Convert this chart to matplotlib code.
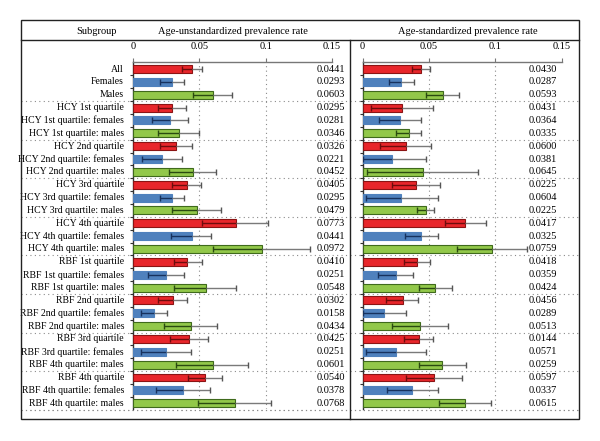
import numpy as np
import matplotlib
matplotlib.use('Agg')
import matplotlib.pyplot as plt
from matplotlib.lines import Line2D
from matplotlib.patches import Rectangle
import matplotlib.transforms as mtransforms

plt.rcParams['font.family'] = ['Liberation Serif', 'DejaVu Serif']

# Subgroup labels (as printed in the figure)
labels = ['All', 'Females', 'Males',
          'HCY 1st quartile', 'HCY 1st quartile: females', 'HCY 1st quartile: males',
          'HCY 2nd quartile', 'HCY 2nd quartile: females', 'HCY 2nd quartile: males',
          'HCY 3rd quartile', 'HCY 3rd quartile: females', 'HCY 3rd quartile: males',
          'HCY 4th quartile', 'HCY 4th quartile: females', 'HCY 4th quartile: males',
          'RBF 1st quartile', 'RBF 1st quartile: females', 'RBF 1st quartile: males',
          'RBF 2nd quartile', 'RBF 2nd quartile: females', 'RBF 2nd quartile: males',
          'RBF 3rd quartile', 'RBF 3rd quartile: females', 'RBF 4th quartile: males',
          'RBF 4th quartile', 'RBF 4th quartile: females', 'RBF 4th quartile: males']

# Printed values
unstd_text = ['0.0441', '0.0293', '0.0603', '0.0295', '0.0281', '0.0346', '0.0326', '0.0221', '0.0452',
              '0.0405', '0.0295', '0.0479', '0.0773', '0.0441', '0.0972', '0.0410', '0.0251', '0.0548',
              '0.0302', '0.0158', '0.0434', '0.0425', '0.0251', '0.0601', '0.0540', '0.0378', '0.0768']
std_text = ['0.0430', '0.0287', '0.0593', '0.0431', '0.0364', '0.0335', '0.0600', '0.0381', '0.0645',
            '0.0225', '0.0604', '0.0225', '0.0417', '0.0325', '0.0759', '0.0418', '0.0359', '0.0424',
            '0.0456', '0.0289', '0.0513', '0.0144', '0.0571', '0.0259', '0.0597', '0.0337', '0.0615']

# Bars and confidence limits
unstd_val = [0.0441, 0.0293, 0.0603, 0.0295, 0.0281, 0.0346, 0.0326, 0.0221, 0.0452,
             0.0405, 0.0295, 0.0479, 0.0773, 0.0441, 0.0972, 0.0410, 0.0251, 0.0548,
             0.0302, 0.0158, 0.0434, 0.0425, 0.0251, 0.0601, 0.0540, 0.0378, 0.0768]
unstd_lo = [0.0367, 0.0201, 0.0455, 0.0186, 0.0146, 0.0191, 0.0206, 0.0070, 0.0274,
            0.0296, 0.0206, 0.0296, 0.0523, 0.0286, 0.0603, 0.0307, 0.0116, 0.0312,
            0.0191, 0.0060, 0.0236, 0.0281, 0.0060, 0.0327, 0.0412, 0.0176, 0.0492]
unstd_hi = [0.0518, 0.0384, 0.0749, 0.0402, 0.0415, 0.0497, 0.0445, 0.0372, 0.0628,
            0.0510, 0.0384, 0.0661, 0.1020, 0.0590, 0.1337, 0.0518, 0.0387, 0.0779,
            0.0410, 0.0254, 0.0633, 0.0563, 0.0440, 0.0869, 0.0671, 0.0578, 0.1040]

# Bars and confidence limits
std_val = [0.0442, 0.0293, 0.0604, 0.0295, 0.0280, 0.0348, 0.0326, 0.0220, 0.0455,
           0.0402, 0.0293, 0.0477, 0.0775, 0.0439, 0.0975, 0.0412, 0.0250, 0.0548,
           0.0303, 0.0159, 0.0437, 0.0424, 0.0250, 0.0601, 0.0540, 0.0376, 0.0773]
std_lo = [0.0374, 0.0197, 0.0482, 0.0063, 0.0121, 0.0255, 0.0134, 0.0002, 0.0035,
          0.0225, 0.0025, 0.0414, 0.0619, 0.0318, 0.0710, 0.0311, 0.0119, 0.0424,
          0.0179, 0.0002, 0.0225, 0.0316, 0.0025, 0.0424, 0.0331, 0.0187, 0.0576]
std_hi = [0.0510, 0.0391, 0.0727, 0.0528, 0.0439, 0.0439, 0.0518, 0.0482, 0.0869,
          0.0586, 0.0566, 0.0540, 0.0932, 0.0568, 0.1237, 0.0508, 0.0381, 0.0674,
          0.0422, 0.0326, 0.0644, 0.0535, 0.0475, 0.0780, 0.0753, 0.0568, 0.0967]

xticks = [0, 0.05, 0.1, 0.15]
xticklabels = ['0', '0.05', '0.1', '0.15']

fills = ['#e8262b', '#4f81bd', '#92c84a']
edges = ['#8b1414', '#4f81bd', '#3f6a1c']
darks = ['#6e0c0c', '#17325e', '#2a4a10']
upper_col = '#7a7a7a'
sep_col = '#8a8a8a'

W, H = 600, 441
fig = plt.figure(figsize=(W / 100, H / 100), dpi=100)
fig.patch.set_facecolor('white')

def fx(px):
    return px / W

def fy(py):
    return 1 - py / H

n = len(labels)
y = np.arange(n)

def panel(x0, x1, vals, lo, hi, texts, text_x, sep_from, sep_to):
    ax = fig.add_axes([fx(x0), fy(409), fx(x1) - fx(x0), fy(62) - fy(409)])
    ax.set_xlim(0, 0.15)
    ax.set_ylim(n - 0.55, -0.55)
    cols = [fills[i % 3] for i in range(n)]
    ecs = [edges[i % 3] for i in range(n)]
    ax.barh(y, vals, height=0.62, color=cols, edgecolor=ecs, linewidth=0.8, zorder=3)
    for i in range(n):
        d = darks[i % 3]
        ax.hlines(y[i], lo[i], vals[i], color=d, lw=1.0, zorder=4)
        ax.plot([lo[i]], [y[i]], marker='|', ms=5, mew=1.0, color=d, zorder=4)
        ax.hlines(y[i], vals[i], hi[i], color=upper_col, lw=1.0, zorder=4)
        ax.plot([hi[i]], [y[i]], marker='|', ms=5, mew=1.0, color='#555555', zorder=4)
    # dotted vertical grid
    for v in [0.05, 0.1]:
        ax.axvline(v, color=sep_col, ls=(0, (1, 3)), lw=0.8, zorder=1)
    # dotted group separators spanning the whole panel
    for b in list(np.arange(2.5, n, 3)) + [n - 0.5]:
        ax.axhline(b + 0.05 if b == n - 0.5 else b, xmin=sep_from, xmax=sep_to,
                   color=sep_col, ls=(0, (1, 3)), lw=0.8, clip_on=False, zorder=1)
    # axes styling
    for s in ['right', 'bottom']:
        ax.spines[s].set_visible(False)
    ax.spines['top'].set_color('#777777')
    ax.spines['top'].set_linewidth(1.0)
    ax.spines['left'].set_color('#333333')
    ax.spines['left'].set_linewidth(1.0)
    ax.xaxis.tick_top()
    ax.set_xticks(xticks)
    ax.set_xticklabels(xticklabels, fontsize=7.5)
    ax.tick_params(axis='x', length=3, width=0.8, color='#777777', pad=5)
    ax.set_yticks(np.arange(0.5, n - 1, 1))
    ax.set_yticklabels([])
    ax.tick_params(axis='y', length=2.5, width=0.8, color='#333333')
    trans = mtransforms.blended_transform_factory(ax.transAxes, ax.transData)
    for i in range(n):
        ax.text(text_x, y[i], texts[i], transform=trans, ha='right', va='center', fontsize=7.5)
    return ax

axL = panel(133, 332, unstd_val, unstd_lo, unstd_hi, unstd_text,
            (345 - 133) / 199, (21 - 133) / 199, (350 - 133) / 199)
axR = panel(362.5, 561.5, std_val, std_lo, std_hi, std_text,
            (557 - 362.5) / 199, (350 - 362.5) / 199, (579 - 362.5) / 199)

# subgroup labels
transL = mtransforms.blended_transform_factory(fig.transFigure, axL.transData)
for i in range(n):
    axL.text(fx(124), y[i], labels[i], transform=transL, ha='right', va='center', fontsize=7)

# table frame and header
fig.patches.append(Rectangle((fx(21), fy(419)), fx(579) - fx(21), fy(20) - fy(419),
                             transform=fig.transFigure, fill=False, ec='#222222', lw=1.0))
fig.add_artist(Line2D([fx(21), fx(579)], [fy(40), fy(40)], color='#222222', lw=1.0))
fig.add_artist(Line2D([fx(350), fx(350)], [fy(40), fy(419)], color='#222222', lw=1.0))
fig.text(fx(96), fy(31), 'Subgroup', ha='center', va='center', fontsize=7.5)
fig.text(fx(233), fy(31), 'Age-unstandardized prevalence rate', ha='center', va='center', fontsize=7.5)
fig.text(fx(468), fy(31), 'Age-standardized prevalence rate', ha='center', va='center', fontsize=7.5)

plt.savefig('out.png', dpi=100)
